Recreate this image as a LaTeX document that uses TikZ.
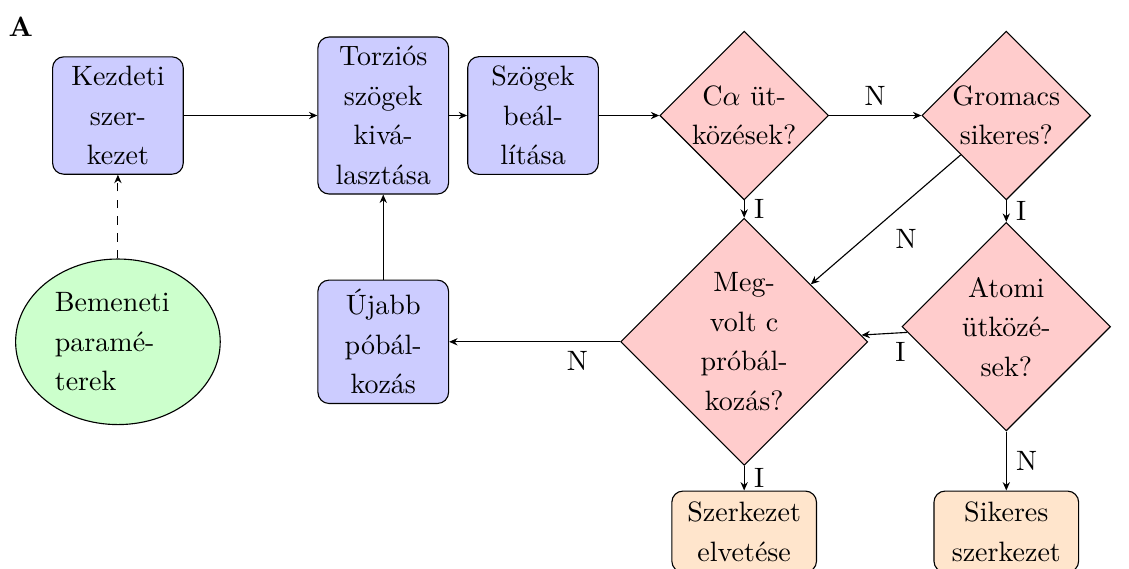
\documentclass[tikz,border=0pt]{standalone}
\usepackage{amsmath}
\usetikzlibrary{arrows.meta, shapes.geometric}

\begin{document}
\begin{tikzpicture}[>={Stealth[length=3pt, width=2.6pt]},
    every node/.style={font=\fontsize{10pt}{14.1pt}\selectfont},
    blokk/.style={rectangle, draw, fill=blue!20, rounded corners, text width=4em, align=center},
    dontes/.style={diamond, draw, fill=red!20, text width=3.9em, align=center, inner sep=0pt},
    vege/.style={rectangle, draw, fill=orange!20, rounded corners, text width=4.5em, align=center, minimum height=29pt},
    bemenet/.style={ellipse, draw, fill=green!20, text width=4.5em, align=left}]
  \useasboundingbox (0,0) rectangle (14.17,7.13);

  % panel label
  \node (panel) at (0.26,6.79) {\textbf{A}};

  % upper row
  \node[blokk] (kezdeti) at (1.48,5.68) {Kezdeti\\szer-\\kezet};
  \node[blokk] (torzios) at (4.81,5.68) {Torziós\\szögek\\kivá-\\lasztása};
  \node[blokk] (szogek) at (6.69,5.68) {Szögek\\beál-\\lítása};
  \node[dontes] (calfa) at (9.34,5.68) {C$\alpha$ üt-\\közések?};
  \node[dontes] (gromacs) at (12.63,5.68) {Gromacs\\sikeres?};

  % middle row
  \node[bemenet] (bemeneti) at (1.48,2.84) {Bemeneti\\paramé-\\terek};
  \node[blokk] (ujabb) at (4.81,2.84) {Újabb\\póbál-\\kozás};
  \node[dontes] (megvolt) at (9.34,2.84) {Meg-\\volt c\\próbál-\\kozás?};
  \node[dontes] (atomi) at (12.63,3.03) {Atomi\\ütközé-\\sek?};

  % end states
  \node[vege] (elvetes) at (9.34,0.457) {Szerkezet\\elvetése};
  \node[vege] (sikeres) at (12.63,0.457) {Sikeres\\szerkezet};

  % connectors
  \draw[->, dashed] (bemeneti) -- (kezdeti);
  \draw[->] (kezdeti) -- (torzios);
  \draw[->] (torzios) -- (szogek);
  \draw[->] (szogek) -- (calfa);
  \draw[->] (calfa) -- node[above] {N} (gromacs);
  \draw[->] (calfa) -- node[right] {I} (megvolt);
  \draw[->] (gromacs) -- node[right] {I} (atomi);
  \draw[->] (gromacs) -- node[below right] {N} (megvolt);
  \draw[->] (atomi) -- node[pos=0.15, below] {I} (megvolt);
  \draw[->] (megvolt) -- node[near start, below] {N} (ujabb);
  \draw[->] (ujabb) -- (torzios);
  \draw[->] (megvolt) -- node[right] {I} (elvetes);
  \draw[->] (atomi) -- node[right] {N} (sikeres);
\end{tikzpicture}
\end{document}
